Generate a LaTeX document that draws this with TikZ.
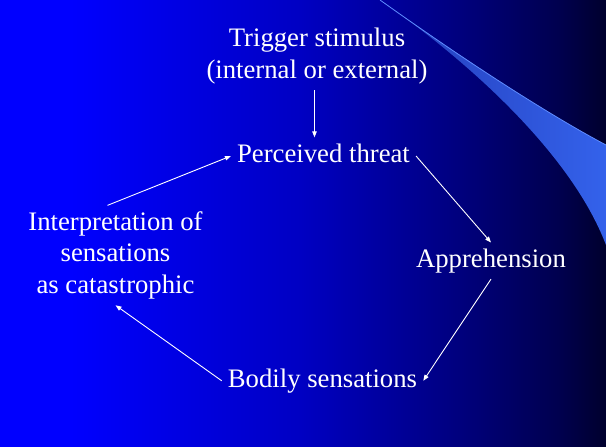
\documentclass[tikz,border=0pt]{standalone}
\usepackage{fontspec}
\setmainfont{Liberation Serif}
\usetikzlibrary{arrows.meta}

\definecolor{bg_left}{RGB}{0,0,255}
\definecolor{bg_mid}{RGB}{0,0,195}
\definecolor{bg_dark}{RGB}{0,0,130}
\definecolor{bg_darker}{RGB}{0,0,78}
\definecolor{bg_right}{RGB}{0,0,45}
\definecolor{swoosh_left}{RGB}{35,60,185}
\definecolor{swoosh_right}{RGB}{52,98,235}
\definecolor{swoosh_line}{RGB}{95,140,255}
\pgfdeclarehorizontalshading{slide_bg}{100bp}{color(0bp)=(bg_left); color(30.8bp)=(bg_left); color(49.75bp)=(bg_mid); color(62.1bp)=(bg_dark); color(71.2bp)=(bg_darker); color(75bp)=(bg_right); color(100bp)=(bg_right)}

\begin{document}
\begin{tikzpicture}[x=1pt, y=-1pt, shorten >=0pt, auto]
    \tikzstyle{node_style} = [text=white, inner sep=6pt, align=center, font=\fontsize{26.7pt}{31.5pt}\selectfont]
    \tikzstyle{edge_style} = [draw=white, line width=0.9pt, -{Triangle[length=6pt,width=4.5pt]}]
    \useasboundingbox (0,0) rectangle (606,447);
    \shade[shading=slide_bg] (0,0) rectangle (606,447);
    \shade[left color=swoosh_left, right color=swoosh_right] (380,0) .. controls (450,50) and (540,110) .. (606,145) -- (606,245) .. controls (570,150) and (460,55) .. (380,0) -- cycle;
    \draw[swoosh_line, line width=0.8pt] (380,0) .. controls (450,50) and (540,110) .. (606,145);

    \node[node_style] (trigger) at (317,56.3) {Trigger stimulus\\(internal or external)};
    \node[node_style] (threat) at (323.5,153) {Perceived threat};
    \node[node_style] (appr) at (491,260.8) {Apprehension};
    \node[node_style] (body) at (322.5,380.8) {Bodily sensations};
    \node[node_style] (interp) at (115.5,255.3) {Interpretation of\\sensations\\as catastrophic};

    \draw[edge_style]  ([xshift=-2.5pt]trigger.south) -- ([xshift=-2.5pt]trigger.south |- threat.north);
    \draw[edge_style]  ([yshift=-3pt]threat.east) -- (appr.north);
    \draw[edge_style]  (appr.south) -- (body.east);
    \draw[edge_style]  (body.west) -- (interp.south);
    \draw[edge_style]  ([xshift=-8pt]interp.north) -- ([yshift=-3pt]threat.west);
\end{tikzpicture}
\end{document}
